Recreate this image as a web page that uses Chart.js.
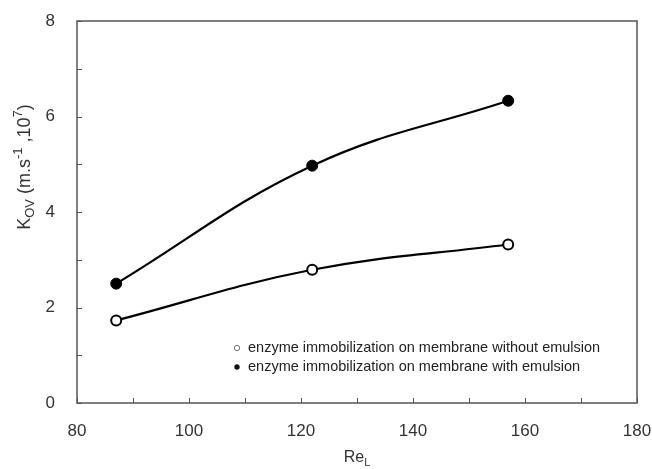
<!DOCTYPE html>
<html>
<head>
<meta charset="utf-8">
<script src="https://cdn.jsdelivr.net/npm/chart.js@4"></script>
<style>
  html, body { margin: 0; padding: 0; background: #fff; }
  #wrap { width: 652px; height: 469px; }
</style>
</head>
<body>
<div id="wrap"><canvas id="myChart" width="652" height="469"></canvas></div>
<script>
// data
const reL = [87, 122, 157];
const withoutEmulsion = [1.73, 2.79, 3.32];
const withEmulsion = [2.5, 4.97, 6.33];
const seriesLabels = [
    'enzyme immobilization on membrane without emulsion',
    'enzyme immobilization on membrane with emulsion'
];

const toPoints = ys => ys.map((y, i) => ({ x: reL[i], y: y }));

// frame, inward ticks, axis titles and the in-plot legend
const decorations = {
    id: 'decorations',
    afterDraw(chart) {
        const ctx = chart.ctx;
        const a = chart.chartArea;
        const xs = chart.scales.x, ys = chart.scales.y;
        ctx.save();
        ctx.strokeStyle = '#555';
        ctx.lineWidth = 1.5;
        ctx.strokeRect(a.left, a.top, a.right - a.left, a.bottom - a.top);

        ctx.lineWidth = 1;
        ctx.beginPath();
        xs.ticks.forEach(t => {
            const px = Math.round(xs.getPixelForValue(t.value)) + 0.5;
            ctx.moveTo(px, a.bottom);
            ctx.lineTo(px, a.bottom - 5);
        });
        ys.ticks.forEach(t => {
            const py = Math.round(ys.getPixelForValue(t.value)) + 0.5;
            ctx.moveTo(a.left, py);
            ctx.lineTo(a.left + 5, py);
        });
        ctx.stroke();

        // x title: Re with subscript L
        ctx.fillStyle = '#333';
        ctx.textBaseline = 'alphabetic';
        ctx.font = '16px "Liberation Sans", Arial, sans-serif';
        const reW = ctx.measureText('Re').width;
        ctx.font = '11px "Liberation Sans", Arial, sans-serif';
        const lW = ctx.measureText('L').width;
        let x0 = (a.left + a.right) / 2 - (reW + lW) / 2;
        ctx.font = '16px "Liberation Sans", Arial, sans-serif';
        ctx.fillText('Re', x0, 462);
        ctx.font = '11px "Liberation Sans", Arial, sans-serif';
        ctx.fillText('L', x0 + reW, 466);

        // y title: K_OV (m.s^-1 ,10^7), rotated
        const parts = [
            { t: 'K', s: 18, dy: 0 },
            { t: 'OV', s: 13, dy: 4 },
            { t: ' (m.s', s: 18, dy: 0 },
            { t: '-1', s: 13, dy: -8 },
            { t: ' ,10', s: 18, dy: 0 },
            { t: '7', s: 13, dy: -8 },
            { t: ')', s: 18, dy: 0 }
        ];
        let total = 0;
        parts.forEach(p => {
            ctx.font = p.s + 'px "Liberation Sans", Arial, sans-serif';
            p.w = ctx.measureText(p.t).width;
            total += p.w;
        });
        ctx.save();
        ctx.translate(30, 167);
        ctx.rotate(-Math.PI / 2);
        let cx = -total / 2;
        parts.forEach(p => {
            ctx.font = p.s + 'px "Liberation Sans", Arial, sans-serif';
            ctx.fillText(p.t, cx, p.dy);
            cx += p.w;
        });
        ctx.restore();

        // legend inside the plot
        ctx.font = '14.5px "Liberation Sans", Arial, sans-serif';
        ctx.textBaseline = 'middle';
        const legendY = [348, 367];
        seriesLabels.forEach((lab, i) => {
            const y = legendY[i];
            ctx.beginPath();
            ctx.arc(237, y, 2.7, 0, Math.PI * 2);
            if (i === 0) {
                ctx.strokeStyle = '#777';
                ctx.lineWidth = 1;
                ctx.stroke();
            } else {
                ctx.fillStyle = '#111';
                ctx.fill();
            }
            ctx.fillStyle = '#222';
            ctx.fillText(lab, 248, y);
        });
        ctx.restore();
    }
};

const ctx = document.getElementById('myChart').getContext('2d');
const myChart = new Chart(ctx, {
    type: 'line',
    data: {
        datasets: [{
            label: seriesLabels[0],
            data: toPoints(withoutEmulsion),
            borderColor: '#000',
            borderWidth: 2.2,
            pointRadius: 5,
            pointBorderWidth: 2,
            pointBackgroundColor: '#fff',
            pointBorderColor: '#000',
            tension: 0.4
        }, {
            label: seriesLabels[1],
            data: toPoints(withEmulsion),
            borderColor: '#000',
            borderWidth: 2.2,
            pointRadius: 5.5,
            pointBorderWidth: 1,
            pointBackgroundColor: '#000',
            pointBorderColor: '#000',
            tension: 0.4
        }]
    },
    options: {
        responsive: false,
        animation: false,
        layout: { padding: { left: 0, right: 15, top: 21, bottom: 0 } },
        plugins: {
            legend: { display: false },
            tooltip: { enabled: false }
        },
        scales: {
            x: {
                type: 'linear',
                min: 80,
                max: 180,
                afterFit: s => { s.height = 66; s.paddingLeft = 0; s.paddingRight = 0; },
                grid: { display: false },
                border: { display: false },
                ticks: {
                    stepSize: 10,
                    autoSkip: false,
                    maxRotation: 0,
                    padding: 10,
                    color: '#333',
                    font: { family: '"Liberation Sans", Arial, sans-serif', size: 17 },
                    callback: v => (v % 20 === 0 ? v : '')
                }
            },
            y: {
                min: 0,
                max: 8,
                afterFit: s => { s.width = 77; s.paddingTop = 0; s.paddingBottom = 0; },
                grid: { display: false },
                border: { display: false },
                ticks: {
                    stepSize: 1,
                    padding: 14,
                    color: '#333',
                    font: { family: '"Liberation Sans", Arial, sans-serif', size: 17 },
                    callback: v => (v % 2 === 0 ? v : '')
                }
            }
        }
    },
    plugins: [decorations]
});
</script>
</body>
</html>
